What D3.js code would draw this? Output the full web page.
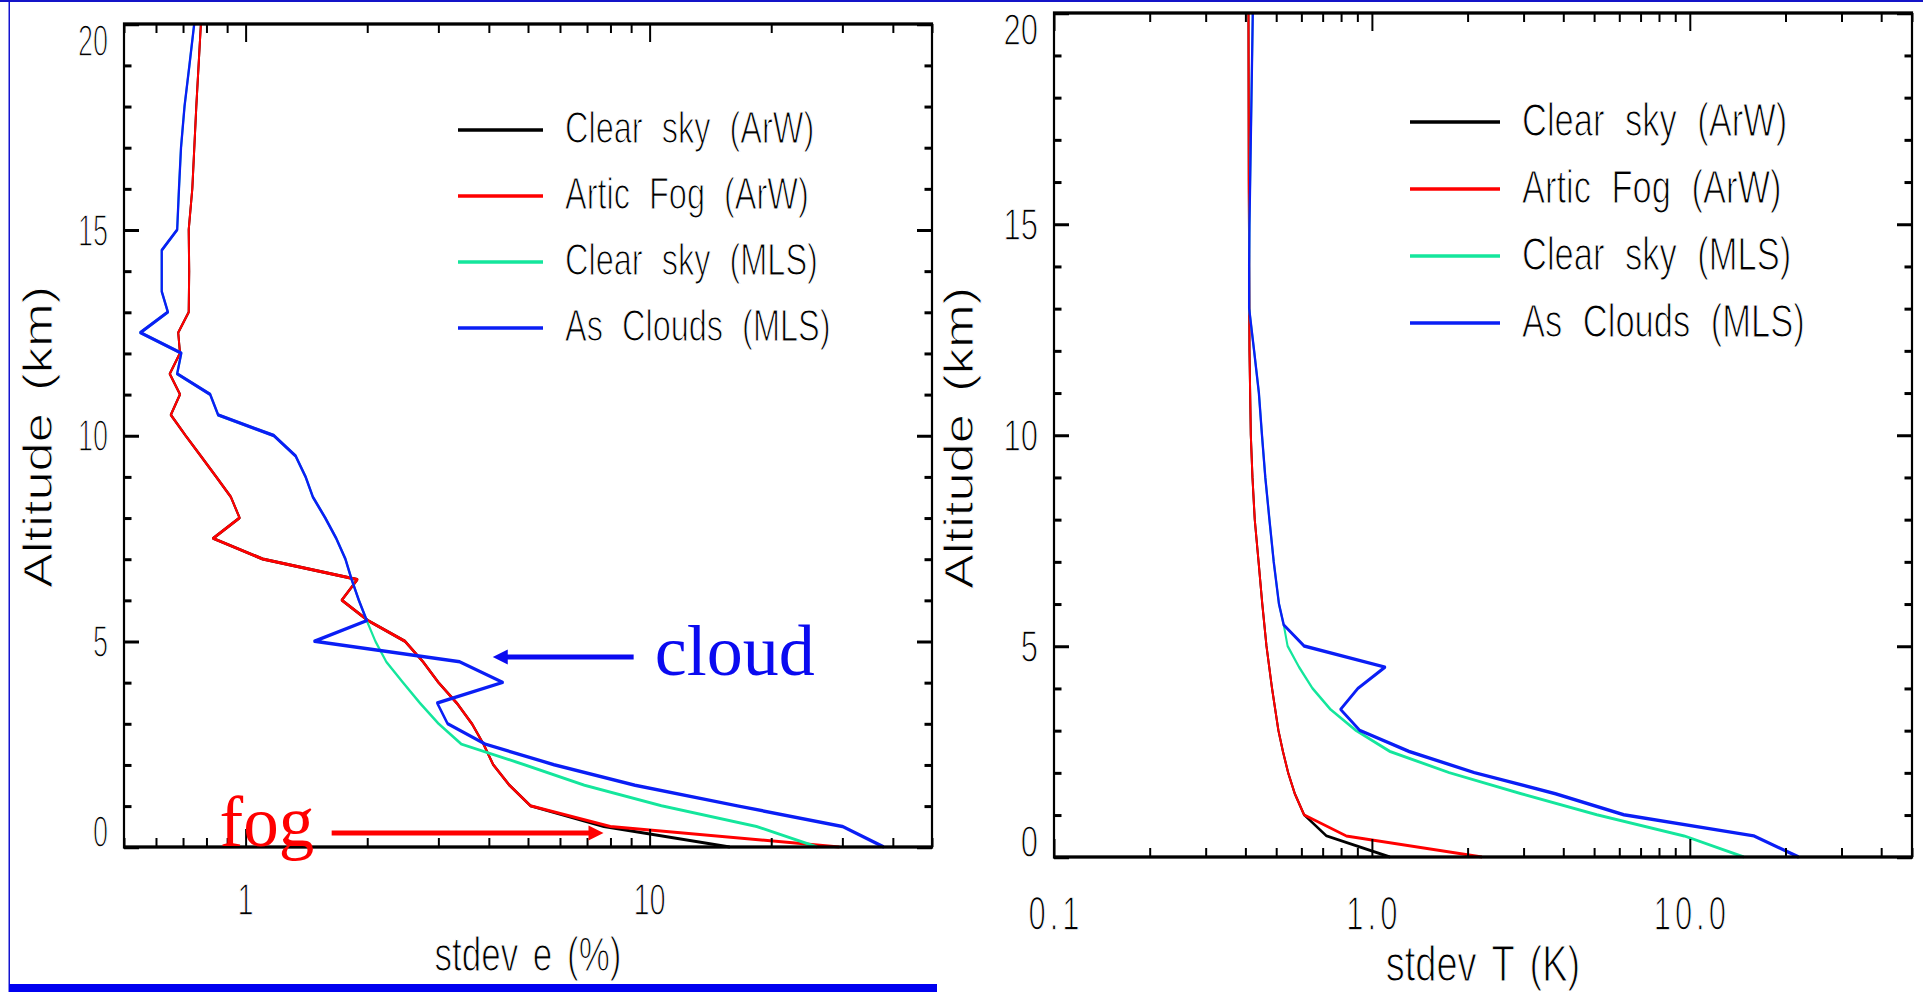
<!DOCTYPE html>
<html>
<head>
<meta charset="utf-8">
<script src="https://cdn.jsdelivr.net/npm/d3@7"></script>
<style>
  html, body { margin: 0; padding: 0; background: #fff; overflow: hidden; }
  svg { display: block; }
</style>
</head>
<body>
<svg id="fig" width="1923" height="992"></svg>
<script>
// ---------------- data ----------------
const seriesNames  = ["Clear sky (ArW)", "Artic Fog (ArW)", "Clear sky (MLS)", "As Clouds (MLS)"];
const seriesColors = ["#000000", "#ff0000", "#14e69c", "#0a1ef5"];

const altTicks      = [0, 5, 10, 15, 20];
const eTickValues   = [1, 10];
const eTickLabels   = ["1", "10"];
const tTickValues   = [0.1, 1, 10];
const tTickLabels   = ["0.1", "1.0", "10.0"];

// water-vapour panel: stdev e (%) against altitude (km)
const eAltClearArW = [20,18,16,15,14,13,12.5,12,11.5,11,10.5,10,9.5,9,8.5,8,7.5,7,6.5,6,5.5,5,4.5,4,3.5,3,2.5,2,1.5,1,0.5,0];
const eClearArW    = [0.775,0.755,0.738,0.723,0.725,0.723,0.681,0.688,0.649,0.688,0.653,0.71,0.775,0.845,0.92,0.966,0.831,1.102,1.89,1.73,2.01,2.48,2.75,3.0,3.33,3.63,3.88,4.1,4.5,5.07,7.7,15.8];
const eAltFogArW   = [20,18,16,15,14,13,12.5,12,11.5,11,10.5,10,9.5,9,8.5,8,7.5,7,6.5,6,5.5,5,4.5,4,3.5,3,2.5,2,1.5,1,0.5,0];
const eFogArW      = [0.775,0.755,0.738,0.723,0.725,0.723,0.681,0.688,0.649,0.688,0.653,0.71,0.775,0.845,0.92,0.966,0.831,1.102,1.89,1.73,2.01,2.48,2.75,3.0,3.33,3.63,3.88,4.1,4.5,5.07,8.0,29.5];
const eAltClearMLS = [20,19,18,17,16,15,14.5,13.5,13,12.5,12,11.5,11,10.5,10,9.5,9,8.5,8,7.5,7,6.5,6,5.5,5,4.5,4,3.5,3,2.5,2,1.5,1,0.5,0];
const eClearMLS    = [0.746,0.726,0.706,0.692,0.684,0.677,0.620,0.620,0.642,0.549,0.693,0.677,0.817,0.855,1.174,1.33,1.407,1.468,1.574,1.676,1.766,1.83,1.906,1.995,2.095,2.23,2.45,2.70,3.0,3.42,4.9,6.9,10.7,18.4,26.0];
const eAltCloudMLS = [20,19,18,17,16,15,14.5,13.5,13,12.5,12,11.5,11,10.5,10,9.5,9,8.5,8,7.5,7,6.5,6,5.5,5,4.5,4,3.5,3,2.5,2,1.5,1,0.5,0];
const eCloudMLS    = [0.746,0.726,0.706,0.692,0.684,0.677,0.620,0.620,0.642,0.549,0.693,0.677,0.817,0.855,1.174,1.33,1.407,1.468,1.574,1.676,1.766,1.83,1.906,1.995,1.48,3.39,4.33,2.98,3.16,3.92,5.8,9.2,16.5,30.0,38.0];

// temperature panel: stdev T (K) against altitude (km)
const tAltClearArW = [20,16,12,10,9,8,7,6,5,4,3,2.5,2,1.5,1,0.5,0];
const tClearArW    = [0.409,0.41,0.412,0.416,0.421,0.428,0.44,0.452,0.466,0.485,0.508,0.525,0.545,0.572,0.612,0.72,1.14];
const tAltFogArW   = [20,16,12,10,9,8,7,6,5,4,3,2.5,2,1.5,1,0.5,0];
const tFogArW      = [0.409,0.41,0.412,0.416,0.421,0.428,0.44,0.452,0.466,0.485,0.508,0.525,0.545,0.572,0.612,0.83,2.22];
const tAltClearMLS = [20,18,16,15,14,13,12,11,10,9,8,7,6,5.5,5,4.5,4,3.5,3,2.5,2,1.5,1,0.5,0];
const tClearMLS    = [0.422,0.418,0.414,0.412,0.411,0.411,0.426,0.441,0.451,0.462,0.476,0.491,0.51,0.528,0.543,0.59,0.65,0.74,0.89,1.14,1.75,2.95,5.1,9.6,14.8];
const tAltCloudMLS = [20,18,16,15,14,13,12,11,10,9,8,7,6,5.5,5,4.5,4,3.5,3,2.5,2,1.5,1,0.5,0];
const tCloudMLS    = [0.422,0.418,0.414,0.412,0.411,0.411,0.426,0.441,0.451,0.462,0.476,0.491,0.51,0.528,0.612,1.10,0.905,0.797,0.916,1.31,2.1,3.78,6.2,15.9,22.0];

// call-outs on the water-vapour panel, in data units (value, altitude)
const cloudNote = { text: "cloud", textAt: [10.3, 4.18], from: [9.13, 4.62], to: [4.09, 4.62] };
const fogNote   = { text: "fog",   textAt: [0.862, 0.02], from: [1.633, 0.34], to: [7.69, 0.34] };

// ---------------- drawing ----------------
const SANS = "'Liberation Sans', Arial, sans-serif";
const SERIF = "'Liberation Serif', 'Times New Roman', serif";
const K = 1.5;               // vertical stretch of the line work
const svg = d3.select("#fig");

// slide border
svg.append("rect").attr("x", 0).attr("y", 0).attr("width", 1923).attr("height", 2).attr("fill", "#1414c8");
svg.append("rect").attr("x", 8.5).attr("y", 0).attr("width", 1.5).attr("height", 992).attr("fill", "#1414d0");
svg.append("rect").attr("x", 9).attr("y", 984).attr("width", 928).attr("height", 8).attr("fill", "#0000f0");

const ink = svg.append("g").attr("transform", `scale(1,${K})`);
const txt = svg.append("g");

// thin-stroked, vertically stretched label text
function stretchText(parent, o) {
  const g = parent.append("g")
    .attr("transform", `translate(${o.x},${o.y}) scale(${o.sx || 1},${o.sy || 1})`);
  g.append("text")
    .attr("x", o.dx || 0).attr("y", 0)
    .attr("text-anchor", o.anchor || "start")
    .attr("font-family", o.family || SANS)
    .attr("font-size", o.size)
    .attr("letter-spacing", o.ls || 0)
    .attr("word-spacing", o.ws || 0)
    .attr("fill", o.fill || "#000")
    .attr("stroke", "#fff").attr("stroke-width", 0.9).attr("paint-order", "fill")
    .text(o.text);
  return g;
}

function logMinors(domain) {
  const out = [];
  for (let p = -2; p <= 2; p++) {
    for (let m = 1; m <= 9; m++) {
      const v = m * Math.pow(10, p);
      if (m !== 1 && v >= domain[0] * 0.999 && v <= domain[1] * 1.001) out.push(+v.toPrecision(3));
    }
  }
  return out;
}

function drawPanel(cfg) {
  const x = d3.scaleLog().domain(cfg.xDomain).range([cfg.left, cfg.right]);
  const y = d3.scaleLinear().domain([0, 20]).range([cfg.bottom, cfg.top]);
  const yk = y.copy().range([cfg.bottom / K, cfg.top / K]);
  const g = ink.append("g");

  // profiles
  const line = d3.line().x(d => x(d[1])).y(d => yk(d[0]));
  cfg.series.forEach((s, i) => {
    g.append("path")
      .attr("d", line(d3.zip(s.alt, s.val)))
      .attr("fill", "none")
      .attr("stroke", seriesColors[i])
      .attr("stroke-width", i === 3 ? 2.3 : 2)
      .attr("stroke-linejoin", "round");
  });

  // tick marks on all four sides, pointing inward
  const clean = sel => {
    sel.select(".domain").remove();
    sel.selectAll("text").remove();
    sel.selectAll(".tick line").attr("stroke", "#000").attr("stroke-width", 2);
  };
  const minorsX = logMinors(cfg.xDomain);
  const minorsY = d3.range(0, 21).filter(v => v % 5 !== 0);
  [[d3.axisBottom, cfg.bottom / K], [d3.axisTop, cfg.top / K]].forEach(([ax, pos]) => {
    g.append("g").attr("transform", `translate(0,${pos})`)
      .call(ax(x).tickValues(cfg.xTicks).tickSize(-18 / K).tickFormat("")).call(clean);
    g.append("g").attr("transform", `translate(0,${pos})`)
      .call(ax(x).tickValues(minorsX).tickSize(-9 / K).tickFormat("")).call(clean);
  });
  [[d3.axisLeft, cfg.left], [d3.axisRight, cfg.right]].forEach(([ax, pos]) => {
    g.append("g").attr("transform", `translate(${pos},0)`)
      .call(ax(yk).tickValues(altTicks).tickSize(-15).tickFormat("")).call(clean);
    g.append("g").attr("transform", `translate(${pos},0)`)
      .call(ax(yk).tickValues(minorsY).tickSize(-7.5).tickFormat("")).call(clean);
  });

  // frame
  g.append("rect")
    .attr("x", cfg.left).attr("y", cfg.top / K)
    .attr("width", cfg.right - cfg.left).attr("height", (cfg.bottom - cfg.top) / K)
    .attr("fill", "none").attr("stroke", "#000").attr("stroke-width", 2.2);

  // altitude tick labels (kept inside the axis range)
  const yl = cfg.yLab;
  const capY = 0.716 * yl.size * yl.sy;
  altTicks.forEach(v => {
    const c = Math.max(cfg.top + capY / 2, Math.min(cfg.bottom - capY / 2, y(v)));
    stretchText(txt, { x: cfg.left - 16, y: c + capY / 2, text: String(v), size: yl.size, sy: yl.sy, anchor: "end" });
  });

  // value tick labels
  const xl = cfg.xLab;
  const capX = 0.716 * xl.size * xl.sy;
  cfg.xTicks.forEach((v, i) => {
    const lab = cfg.xLabels[i];
    const ls = lab.includes(".") ? xl.ls : 0;
    stretchText(txt, { x: x(v), y: xl.cy + capX / 2, text: lab, size: xl.size, sy: xl.sy,
                       anchor: "middle", ls: ls, dx: ls / 2 });
  });

  // axis titles
  stretchText(txt, { x: (cfg.left + cfg.right) / 2, y: cfg.xTitle.base, text: cfg.xTitle.text,
                     size: cfg.xTitle.size, sy: cfg.xTitle.sy, anchor: "middle", ws: cfg.xTitle.ws });
  const yt = txt.append("g")
    .attr("transform", `translate(${cfg.yTitle.cx},${cfg.yTitle.cy}) rotate(-90) scale(${cfg.yTitle.sl},1)`);
  yt.append("text").attr("x", 0).attr("y", 0.358 * cfg.yTitle.size)
    .attr("text-anchor", "middle").attr("font-family", SANS)
    .attr("font-size", cfg.yTitle.size).attr("fill", "#000")
    .attr("word-spacing", 6)
    .attr("stroke", "#fff").attr("stroke-width", 0.9).attr("paint-order", "fill")
    .text("Altitude (km)");

  // legend
  const lg = cfg.legend;
  seriesNames.forEach((name, i) => {
    const ly = lg.y0 + i * lg.dy;
    g.append("line")
      .attr("x1", lg.x0).attr("x2", lg.x1).attr("y1", ly / K).attr("y2", ly / K)
      .attr("stroke", seriesColors[i]).attr("stroke-width", 2.4);
    stretchText(txt, { x: lg.tx, y: ly + lg.base, text: name, size: lg.size, sy: lg.sy, ws: lg.ws });
  });

  return { x, y };
}

const eScales = drawPanel({
  left: 124, right: 932, top: 24, bottom: 847,
  xDomain: [0.5, 50], xTicks: eTickValues, xLabels: eTickLabels,
  series: [
    { alt: eAltClearArW, val: eClearArW },
    { alt: eAltFogArW,   val: eFogArW },
    { alt: eAltClearMLS, val: eClearMLS },
    { alt: eAltCloudMLS, val: eCloudMLS }
  ],
  yLab: { size: 27, sy: 1.65 },
  xLab: { size: 29, sy: 1.52, cy: 899, ls: 0 },
  xTitle: { text: "stdev e (%)", size: 35, sy: 1.38, base: 971, ws: 5 },
  yTitle: { cx: 37, cy: 437, size: 41, sl: 1.28 },
  legend: { x0: 458, x1: 543, y0: 130, dy: 66, tx: 565, base: 13, size: 32.5, sy: 1.38, ws: 10 }
});

drawPanel({
  left: 1054, right: 1912, top: 13, bottom: 857,
  xDomain: [0.1, 50], xTicks: tTickValues, xLabels: tTickLabels,
  series: [
    { alt: tAltClearArW, val: tClearArW },
    { alt: tAltFogArW,   val: tFogArW },
    { alt: tAltClearMLS, val: tClearMLS },
    { alt: tAltCloudMLS, val: tCloudMLS }
  ],
  yLab: { size: 31, sy: 1.44 },
  xLab: { size: 31, sy: 1.58, cy: 912, ls: 4 },
  xTitle: { text: "stdev T (K)", size: 38, sy: 1.3, base: 981, ws: 5 },
  yTitle: { cx: 958, cy: 438, size: 41, sl: 1.28 },
  legend: { x0: 1410, x1: 1500, y0: 122, dy: 67, tx: 1522, base: 13.5, size: 34.5, sy: 1.33, ws: 11 }
});

// call-outs
function callout(note, color, size) {
  const { x, y } = eScales;
  const ax0 = x(note.from[0]), ax1 = x(note.to[0]), ay = y(note.to[1]);
  const dir = Math.sign(ax1 - ax0), head = 15, half = 7.5;
  svg.append("line")
    .attr("x1", ax0).attr("x2", ax1 - dir * head + dir).attr("y1", ay).attr("y2", ay)
    .attr("stroke", color).attr("stroke-width", 5);
  svg.append("path")
    .attr("d", `M${ax1},${ay} L${ax1 - dir * head},${ay - half} L${ax1 - dir * head},${ay + half} Z`)
    .attr("fill", color);
  svg.append("text")
    .attr("x", x(note.textAt[0])).attr("y", y(note.textAt[1]))
    .attr("font-family", SERIF).attr("font-size", size).attr("fill", color)
    .text(note.text);
}
callout(cloudNote, "#0a0af0", 72);
callout(fogNote, "#ff0000", 71);
</script>
</body>
</html>
